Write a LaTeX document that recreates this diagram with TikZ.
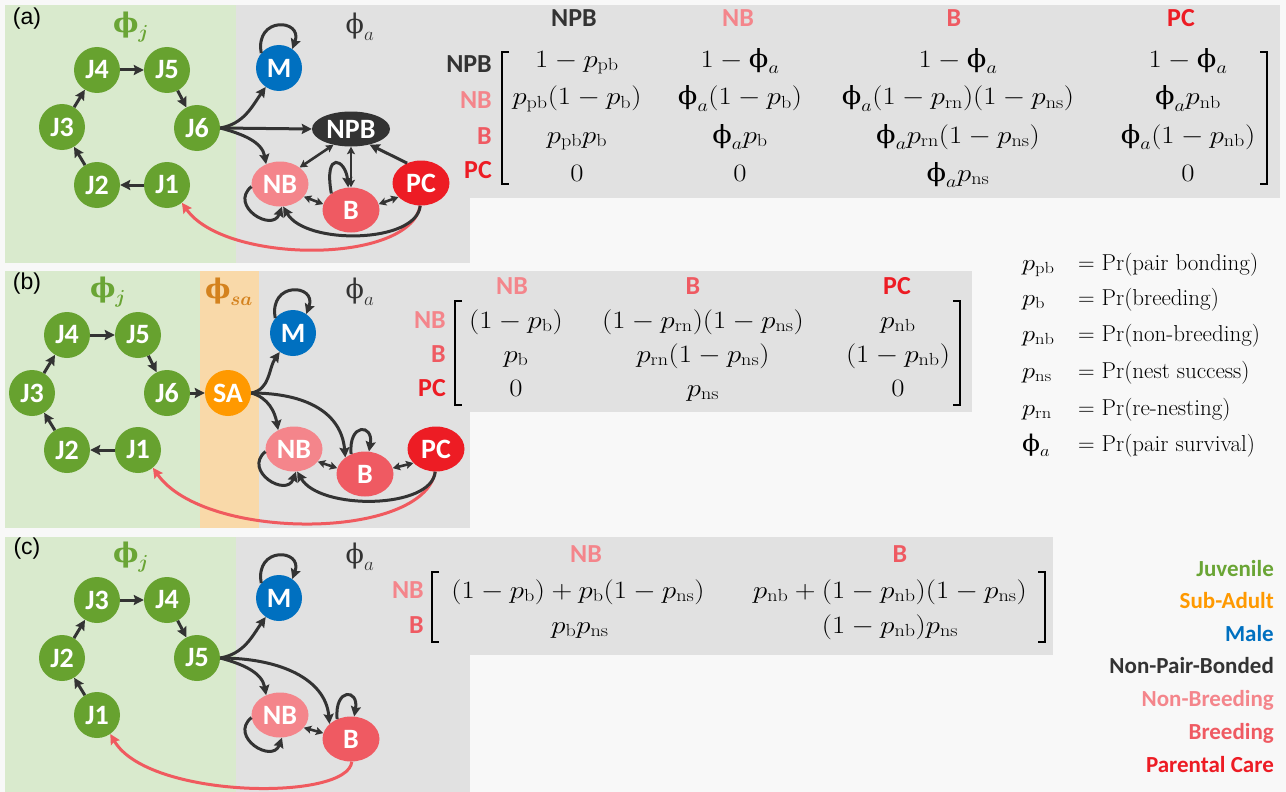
\documentclass[tikz,border=0pt]{standalone}
\usepackage{fix-cm}
\usepackage{amsmath}
\usepackage{fontspec}
\newfontfamily\lab{Carlito}
\newfontfamily\arialf{Liberation Sans}
\newfontfamily\djs{DejaVu Serif}
\usetikzlibrary{arrows.meta,shapes.geometric}
\definecolor{pagebg}{HTML}{F8F8F8}
\definecolor{greenbg}{HTML}{D9EACD}
\definecolor{graybg}{HTML}{E1E1E1}
\definecolor{orangebg}{HTML}{F9D9A9}
\definecolor{jgreen}{HTML}{67A22F}
\definecolor{phigreen}{HTML}{6AA535}
\definecolor{mblue}{HTML}{0070C0}
\definecolor{npbc}{HTML}{333333}
\definecolor{nbc}{HTML}{F4858B}
\definecolor{bc}{HTML}{EF5A62}
\definecolor{pcc}{HTML}{ED1C24}
\definecolor{sac}{HTML}{FF9900}
\definecolor{phisa}{HTML}{D4821E}
\definecolor{arrc}{HTML}{333333}
\definecolor{redc}{HTML}{F05A5F}
\newcommand{\mx}[1]{\scalebox{1.15}[1]{$#1$}}
\newcommand{\pq}[1]{p_{\mathrm{#1}}}
\newcommand{\uphi}{\text{\djs ϕ}}
\newcommand{\bphi}{\text{\djs\bfseries ϕ}}
\tikzset{
  x=1pt, y=1pt,
  jn/.style={circle, fill=jgreen, minimum size=46pt, inner sep=0pt, text=white, font=\lab\bfseries\fontsize{28}{28}\selectfont},
  mn/.style={jn, fill=mblue},
  san/.style={jn, fill=sac},
  eln/.style={ellipse, minimum width=57pt, minimum height=45pt, inner sep=0pt, text=white, font=\lab\bfseries\fontsize{28}{28}\selectfont},
  npbn/.style={eln, fill=npbc, minimum width=78pt, minimum height=35pt},
  nbn/.style={eln, fill=nbc},
  bn/.style={eln, fill=bc},
  pcn/.style={eln, fill=pcc},
  arr/.style={draw=arrc, line width=3pt, -{Stealth[length=10pt,width=10pt,inset=1.5pt]}},
  darr/.style={draw=arrc, line width=2.6pt, {Stealth[length=7.5pt,width=8pt,inset=1.5pt]}-{Stealth[length=7.5pt,width=8pt,inset=1.5pt]}},
  rarr/.style={draw=redc, line width=3pt, -{Stealth[length=10pt,width=10pt,inset=1.5pt]}},
  ent/.style={font=\fontsize{25}{25}\selectfont, inner sep=0pt, anchor=base},
  hdr/.style={font=\lab\bfseries\fontsize{26}{26}\selectfont, inner sep=0pt, anchor=base},
  rowl/.style={hdr, anchor=base east},
  brk/.style={draw=black, line width=1.8pt},
  plab/.style={font=\arialf\fontsize{23}{23}\selectfont, inner sep=0pt},
  phil/.style={font=\fontsize{27}{27}\selectfont, inner sep=0pt},
  defl/.style={font=\fontsize{23}{23}\selectfont, inner sep=0pt, anchor=base west},
  legl/.style={font=\lab\bfseries\fontsize{23}{23}\selectfont, inner sep=0pt, anchor=base east},
}
\begin{document}
\begin{tikzpicture}
\useasboundingbox (0,0) rectangle (1286,-792);
\fill[pagebg] (0,0) rectangle (1286,-792);
% ---------- backgrounds ----------
\fill[greenbg] (5,-5) rectangle (236,-263);
\fill[graybg] (236,-5) rectangle (470,-263);
\fill[graybg] (470,-5) rectangle (1280,-198);
\fill[greenbg] (5,-271) rectangle (200,-528);
\fill[orangebg] (200,-271) rectangle (259,-528);
\fill[graybg] (259,-271) rectangle (470,-528);
\fill[graybg] (470,-271) rectangle (972,-412);
\fill[greenbg] (5,-537) rectangle (236,-792);
\fill[graybg] (236,-537) rectangle (470,-792);
\fill[graybg] (470,-537) rectangle (1053,-655);

% ================= panel (a) =================
\node[plab] (la) at (27,-19) {(a)};
\node[phil, text=phigreen] (phja) at (131,-27) {$\bphi_{\boldsymbol{j}}$};
\node[phil, text=npbc] (phaa) at (360,-27) {$\uphi_a$};
\node[jn] (aJ4) at (97,-70) {J4};
\node[jn] (aJ5) at (167,-70) {J5};
\node[jn] (aJ3) at (62,-127) {J3};
\node[jn] (aJ6) at (197,-128) {J6};
\node[jn] (aJ2) at (97,-185) {J2};
\node[jn] (aJ1) at (167,-185) {J1};
\node[mn] (aM) at (279,-68) {M};
\node[npbn] (aNPB) at (351,-129) {NPB};
\node[nbn] (aNB) at (280,-184) {NB};
\node[bn] (aB) at (351,-210) {B};
\node[pcn] (aPC) at (421,-183) {PC};
\draw[arr] (aJ1) -- (aJ2);
\draw[arr] (aJ2) -- (aJ3);
\draw[arr] (aJ3) -- (aJ4);
\draw[arr] (aJ4) -- (aJ5);
\draw[arr] (aJ5) -- (aJ6);
\draw[arr] (aJ6.east) to[out=10,in=235] (aM.235);
\draw[arr] (aJ6.east) -- (aNPB.west);
\draw[arr] (aJ6.east) to[out=-15,in=100] (aNB.125);
\draw[arr] (aM.140) .. controls +(100:38) and +(70:32) .. (aM.55);
\draw[darr] (aNB.40) -- (aNPB.222);
\draw[darr] (aNPB.south) -- (aB.north);
\draw[arr] (aPC.125) -- (aNPB.-40);
\draw[darr] (aNB.-28) -- (aB.168);
\draw[darr] (aB.12) -- (aPC.212);
\draw[arr] (aB.140) .. controls +(100:45) and +(95:28) .. (aB.97);
\draw[arr] (aNB.185) .. controls +(220:30) and +(250:28) .. (aNB.275);
\draw[rarr] (aPC.268) .. controls +(-100:60) and +(-55:75) .. (aJ1.-50);
\draw[arr] (aPC.268) .. controls +(-95:38) and +(-60:45) .. (aNB.-82);

% matrix (a)
\node[hdr, text=npbc] (ah1) at (574,-27) {NPB};
\node[hdr, text=nbc] (ah2) at (738,-27) {NB};
\node[hdr, text=bc] (ah3) at (954,-27) {B};
\node[hdr, text=pcc] (ah4) at (1181,-27) {PC};
\node[rowl, text=npbc] (ar1) at (492,-73) {NPB};
\node[rowl, text=nbc] (ar2) at (492,-109) {NB};
\node[rowl, text=bc] (ar3) at (492,-144) {B};
\node[rowl, text=pcc] (ar4) at (492,-178) {PC};
\draw[brk] (509,-52) -- (502,-52) -- (502,-184) -- (509,-184);
\draw[brk] (1260,-52) -- (1267,-52) -- (1267,-184) -- (1260,-184);
\node[ent] (a11) at (577,-67) {\mx{1-\pq{pb}}};
\node[ent] (a12) at (740,-67) {\mx{1-\uphi_a}};
\node[ent] (a13) at (958,-67) {\mx{1-\uphi_a}};
\node[ent] (a14) at (1188,-67) {\mx{1-\uphi_a}};
\node[ent] (a21) at (577,-105) {\mx{\pq{pb}(1-\pq{b})}};
\node[ent] (a22) at (740,-105) {\mx{\uphi_a(1-\pq{b})}};
\node[ent] (a23) at (958,-105) {\mx{\uphi_a(1-\pq{rn})(1-\pq{ns})}};
\node[ent] (a24) at (1188,-105) {\mx{\uphi_a\pq{nb}}};
\node[ent] (a31) at (577,-143) {\mx{\pq{pb}\pq{b}}};
\node[ent] (a32) at (740,-143) {\mx{\uphi_a\pq{b}}};
\node[ent] (a33) at (958,-143) {\mx{\uphi_a\pq{rn}(1-\pq{ns})}};
\node[ent] (a34) at (1188,-143) {\mx{\uphi_a(1-\pq{nb})}};
\node[ent] (a41) at (577,-181) {\mx{0}};
\node[ent] (a42) at (740,-181) {\mx{0}};
\node[ent] (a43) at (958,-181) {\mx{\uphi_a\pq{ns}}};
\node[ent] (a44) at (1188,-181) {\mx{0}};

% ================= panel (b) =================
\node[plab] (lb) at (27,-284) {(b)};
\node[phil, text=phigreen] (phjb) at (108,-292) {$\bphi_{\boldsymbol{j}}$};
\node[phil, text=phisa] (phsb) at (229,-292) {$\bphi_{\boldsymbol{sa}}$};
\node[phil, text=npbc] (phab) at (360,-292) {$\uphi_a$};
\node[jn] (bJ4) at (67,-335) {J4};
\node[jn] (bJ5) at (138,-335) {J5};
\node[jn] (bJ3) at (32,-393) {J3};
\node[jn] (bJ6) at (167,-393) {J6};
\node[jn] (bJ2) at (67,-450) {J2};
\node[jn] (bJ1) at (138,-450) {J1};
\node[san] (bSA) at (228,-393) {SA};
\node[mn] (bM) at (293,-333) {M};
\node[nbn] (bNB) at (294,-449) {NB};
\node[bn] (bB) at (365,-474) {B};
\node[pcn] (bPC) at (436,-449) {PC};
\draw[arr] (bJ1) -- (bJ2);
\draw[arr] (bJ2) -- (bJ3);
\draw[arr] (bJ3) -- (bJ4);
\draw[arr] (bJ4) -- (bJ5);
\draw[arr] (bJ5) -- (bJ6);
\draw[arr] (bJ6) -- (bSA);
\draw[arr] (bSA.east) to[out=10,in=235] (bM.235);
\draw[arr] (bSA.east) to[out=-15,in=100] (bNB.130);
\draw[arr] (bSA.east) .. controls +(0:55) and +(95:45) .. (bB.140);
\draw[arr] (bM.140) .. controls +(100:38) and +(70:32) .. (bM.55);
\draw[arr] (bB.125) .. controls +(95:32) and +(80:28) .. (bB.80);
\draw[arr] (bNB.185) .. controls +(220:30) and +(250:28) .. (bNB.275);
\draw[darr] (bNB.-28) -- (bB.168);
\draw[darr] (bB.12) -- (bPC.212);
\draw[rarr] (bPC.268) .. controls +(-100:70) and +(-55:90) .. (bJ1.-50);
\draw[arr] (bPC.268) .. controls +(-95:38) and +(-60:45) .. (bNB.-82);

% matrix (b)
\node[hdr, text=nbc] (bh1) at (512,-294) {NB};
\node[hdr, text=bc] (bh2) at (693,-294) {B};
\node[hdr, text=pcc] (bh3) at (897,-294) {PC};
\node[rowl, text=nbc] (br1) at (446,-328) {NB};
\node[rowl, text=bc] (br2) at (446,-362) {B};
\node[rowl, text=pcc] (br3) at (446,-396) {PC};
\draw[brk] (462,-301) -- (455,-301) -- (455,-405) -- (462,-405);
\draw[brk] (953,-301) -- (960,-301) -- (960,-405) -- (953,-405);
\node[ent] (b11) at (516,-328) {\mx{(1-\pq{b})}};
\node[ent] (b12) at (703,-328) {\mx{(1-\pq{rn})(1-\pq{ns})}};
\node[ent] (b13) at (898,-328) {\mx{\pq{nb}}};
\node[ent] (b21) at (516,-362) {\mx{\pq{b}}};
\node[ent] (b22) at (703,-362) {\mx{\pq{rn}(1-\pq{ns})}};
\node[ent] (b23) at (898,-362) {\mx{(1-\pq{nb})}};
\node[ent] (b31) at (516,-396) {\mx{0}};
\node[ent] (b32) at (703,-396) {\mx{\pq{ns}}};
\node[ent] (b33) at (898,-396) {\mx{0}};

% ================= panel (c) =================
\node[plab] (lc) at (27,-549) {(c)};
\node[phil, text=phigreen] (phjc) at (131,-557) {$\bphi_{\boldsymbol{j}}$};
\node[phil, text=npbc] (phac) at (360,-557) {$\uphi_a$};
\node[jn] (cJ3) at (97,-600) {J3};
\node[jn] (cJ4) at (167,-600) {J4};
\node[jn] (cJ2) at (62,-658) {J2};
\node[jn] (cJ5) at (197,-658) {J5};
\node[jn] (cJ1) at (97,-715) {J1};
\node[mn] (cM) at (279,-598) {M};
\node[nbn] (cNB) at (280,-715) {NB};
\node[bn] (cB) at (351,-739) {B};
\draw[arr] (cJ1) -- (cJ2);
\draw[arr] (cJ2) -- (cJ3);
\draw[arr] (cJ3) -- (cJ4);
\draw[arr] (cJ4) -- (cJ5);
\draw[arr] (cJ5.east) to[out=10,in=235] (cM.235);
\draw[arr] (cJ5.east) to[out=-15,in=100] (cNB.125);
\draw[arr] (cJ5.east) .. controls +(0:60) and +(95:45) .. (cB.145);
\draw[arr] (cM.140) .. controls +(100:38) and +(70:32) .. (cM.55);
\draw[arr] (cB.125) .. controls +(95:32) and +(80:28) .. (cB.82);
\draw[arr] (cNB.185) .. controls +(220:30) and +(250:28) .. (cNB.275);
\draw[darr] (cNB.-28) -- (cB.168);
\draw[rarr] (cB.-88) .. controls +(-95:40) and +(-60:75) .. (cJ1.-55);

% matrix (c)
\node[hdr, text=nbc] (ch1) at (586,-562) {NB};
\node[hdr, text=bc] (ch2) at (900,-562) {B};
\node[rowl, text=nbc] (cr1) at (424,-598) {NB};
\node[rowl, text=bc] (cr2) at (424,-633) {B};
\draw[brk] (439,-572) -- (432,-572) -- (432,-642) -- (439,-642);
\draw[brk] (1038,-572) -- (1045,-572) -- (1045,-642) -- (1038,-642);
\node[ent] (c11) at (578,-598) {\mx{(1-\pq{b})+\pq{b}(1-\pq{ns})}};
\node[ent] (c12) at (890,-598) {\mx{\pq{nb}+(1-\pq{nb})(1-\pq{ns})}};
\node[ent] (c21) at (580,-633) {\mx{\pq{b}\pq{ns}}};
\node[ent] (c22) at (890,-633) {\mx{(1-\pq{nb})\pq{ns}}};

% ================= definitions legend =================
\node[defl] (d1) at (1022,-270) {\makebox[56pt][l]{\mx{\pq{pb}}}= Pr(pair bonding)};
\node[defl] (d2) at (1022,-305) {\makebox[56pt][l]{\mx{\pq{b}}}= Pr(breeding)};
\node[defl] (d3) at (1022,-341) {\makebox[56pt][l]{\mx{\pq{nb}}}= Pr(non-breeding)};
\node[defl] (d4) at (1022,-378) {\makebox[56pt][l]{\mx{\pq{ns}}}= Pr(nest success)};
\node[defl] (d5) at (1022,-415) {\makebox[56pt][l]{\mx{\pq{rn}}}= Pr(re-nesting)};
\node[defl] (d6) at (1022,-451) {\makebox[56pt][l]{\mx{\uphi_a}}= Pr(pair survival)};

% ================= colour legend =================
\node[legl, text=phigreen] (g1) at (1274,-576) {Juvenile};
\node[legl, text=sac] (g2) at (1274,-608) {Sub-Adult};
\node[legl, text=mblue] (g3) at (1274,-641) {Male};
\node[legl, text=npbc] (g4) at (1274,-673) {Non-Pair-Bonded};
\node[legl, text=nbc] (g5) at (1274,-706) {Non-Breeding};
\node[legl, text=bc] (g6) at (1274,-739) {Breeding};
\node[legl, text=pcc] (g7) at (1274,-772) {Parental Care};
\end{tikzpicture}
\end{document}
